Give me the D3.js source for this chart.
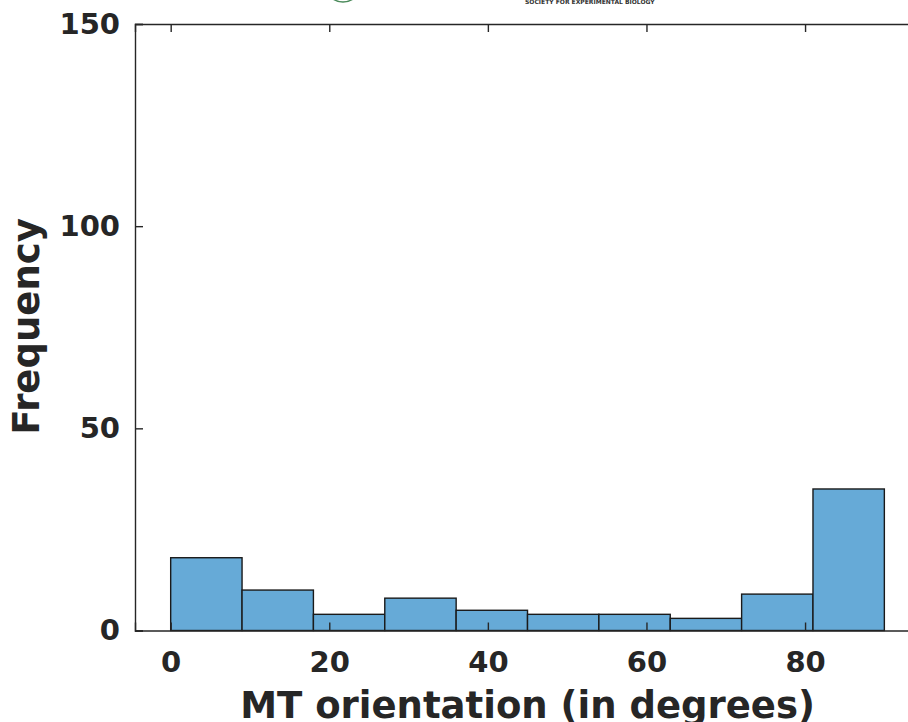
<!DOCTYPE html>
<html>
<head>
<meta charset="utf-8">
<script src="https://cdn.jsdelivr.net/npm/d3@7"></script>
<style>
  html, body { margin: 0; padding: 0; background: #fff; }
  svg { display: block; }
  text { font-family: "DejaVu Sans", sans-serif; font-weight: bold; fill: #262626; }
</style>
</head>
<body>
<svg id="chart" width="908" height="722"></svg>
<script>
// ---- data ----
const binEdges = [0, 9, 18, 27, 36, 45, 54, 63, 72, 81, 90];
const counts = [18, 10, 4, 8, 5, 4, 4, 3, 9, 35];
const xTicks = [0, 20, 40, 60, 80];
const yTicks = [0, 50, 100, 150];
const xLabel = "MT orientation (in degrees)";
const yLabel = "Frequency";

const svg = d3.select("#chart");
const ink = "#262626";

const x = d3.scaleLinear().domain([-4.5, 95]).range([135, 924]);
const y = d3.scaleLinear().domain([0, 150]).range([630.5, 24]);

// partial watermark logo at top
svg.append("circle").attr("cx", 343).attr("cy", -16).attr("r", 18)
  .attr("fill", "none").attr("stroke", "#4a8a5a").attr("stroke-width", 1.5);
svg.append("text").attr("x", 525).attr("y", 4).attr("font-size", 6)
  .style("fill", "#333").text("SOCIETY FOR EXPERIMENTAL BIOLOGY");

// bars
const bins = counts.map((c, i) => ({ x0: binEdges[i], x1: binEdges[i + 1], c }));
svg.append("g").selectAll("rect").data(bins).join("rect")
  .attr("x", d => x(d.x0))
  .attr("y", d => y(d.c))
  .attr("width", d => x(d.x1) - x(d.x0))
  .attr("height", d => y(0) - y(d.c))
  .attr("fill", "#66aad7")
  .attr("stroke", "#1a1a1a")
  .attr("stroke-width", 1.4);

// bottom axis (ticks inward)
const xb = svg.append("g").attr("transform", `translate(0,${y(0)})`)
  .call(d3.axisBottom(x).tickValues(xTicks).tickSize(-8).tickPadding(21).tickFormat(d3.format("d")));
// top axis (ticks inward, no labels)
const xt = svg.append("g").attr("transform", `translate(0,${y(150)})`)
  .call(d3.axisTop(x).tickValues(xTicks).tickSize(-8).tickFormat(""));
// left axis
const yl = svg.append("g").attr("transform", `translate(${x(-4.5)},0)`)
  .call(d3.axisLeft(y).tickValues(yTicks).tickSize(-8).tickPadding(15).tickFormat(d3.format("d")));

[xb, xt, yl].forEach(g => {
  g.select(".domain").attr("stroke", ink).attr("stroke-width", 1.4);
  g.selectAll(".tick line").attr("stroke", ink).attr("stroke-width", 1.4);
  g.selectAll(".tick text").attr("font-size", 29)
    .attr("font-family", "DejaVu Sans").attr("font-weight", "bold").style("fill", ink);
});
xb.selectAll(".tick text").attr("dy", "0.71em");

// axis labels
svg.append("text").attr("x", (x(0) + x(90)) / 2).attr("y", 718)
  .attr("text-anchor", "middle").attr("font-size", 37).text(xLabel);
svg.append("text")
  .attr("transform", `translate(39,${(218 + 435) / 2}) rotate(-90)`)
  .attr("text-anchor", "middle").attr("font-size", 37).text(yLabel);
</script>
</body>
</html>
